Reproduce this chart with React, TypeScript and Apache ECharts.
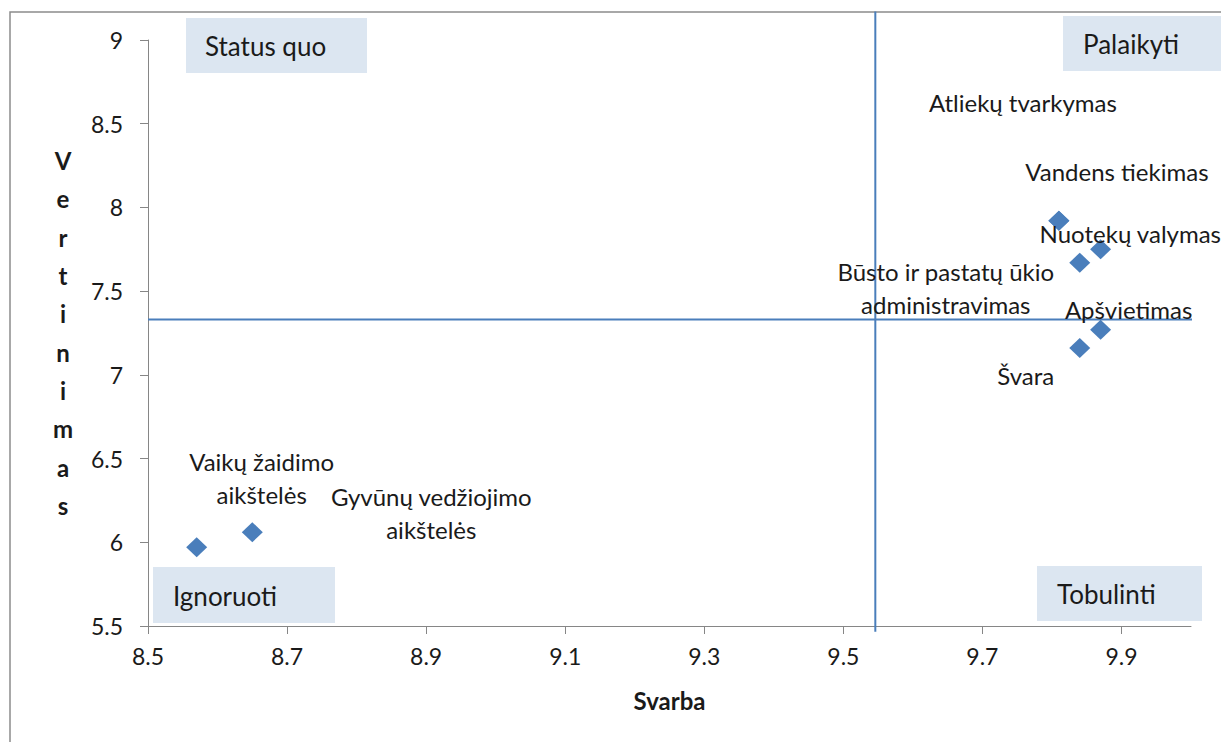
import React, { useEffect, useRef } from "react";
import * as echarts from "echarts";

// ---- data ----
const categories = [
  "Vaikų žaidimo\naikštelės",
  "Gyvūnų vedžiojimo\naikštelės",
  "Atliekų tvarkymas",
  "Vandens tiekimas",
  "Nuotekų valymas",
  "Būsto ir pastatų ūkio\nadministravimas",
  "Apšvietimas",
  "Švara",
];
const svarba = [8.57, 8.65, 9.81, 9.81, 9.87, 9.84, 9.87, 9.84];
const vertinimas = [5.97, 6.06, 7.92, 7.92, 7.75, 7.67, 7.27, 7.16];

const xTicks = [8.5, 8.7, 8.9, 9.1, 9.3, 9.5, 9.7, 9.9];
const xRange = [8.5, 10.0];
const yRange = [5.5, 9];
const yInterval = 0.5;

// quadrant dividers
const quadrantX = 9.546;
const quadrantY = 7.33;
const hLineExtent = [8.5, 10.06];
const vLineExtent = [5.465, 9.17];

const quadrantNames = ["Status quo", "Palaikyti", "Ignoruoti", "Tobulinti"];

// ---- layout / styles ----
const labelOffsets: [number, number][] = [
  [65, -69],
  [179, -19],
  [-36, -118],
  [58, -49],
  [-61, -16],
  [-134, 25],
  [28, -20],
  [-54, 27],
];
const labelAligns = ["center", "center", "center", "center", "left", "center", "center", "center"];

const boxes = [
  { x: 186, y: 18, w: 181, h: 55, tx: 205, ty: 46 },
  { x: 1063, y: 16, w: 170, h: 55, tx: 1083, ty: 44 },
  { x: 153, y: 567, w: 182, h: 56, tx: 173, ty: 596 },
  { x: 1037, y: 566, w: 165, h: 55, tx: 1057, ty: 594 },
];

const BLUE = "#4A7EBB";
const AXIS = "#868686";
const TEXT = "#1a1a1a";
const FONT = "Lato";

export default function App() {
  const ref = useRef<HTMLDivElement>(null);
  useEffect(() => {
    if (!ref.current) return;
    const chart = echarts.init(ref.current, undefined, { renderer: "svg" });
    const graphic: any[] = [
      {
        type: "rect",
        z: 0,
        silent: true,
        shape: { x: 10, y: 12, width: 1400, height: 900 },
        style: { fill: "none", stroke: "#8c8c8c", lineWidth: 1.5 },
      },
    ];
    boxes.forEach((b, i) => {
      graphic.push({
        type: "rect",
        z: 10,
        silent: true,
        shape: { x: b.x, y: b.y, width: b.w, height: b.h },
        style: { fill: "#dce6f1" },
      });
      graphic.push({
        type: "text",
        z: 11,
        silent: true,
        style: {
          text: quadrantNames[i],
          x: b.tx,
          y: b.ty,
          fontFamily: FONT,
          fontSize: 26,
          fill: TEXT,
          align: "left",
          verticalAlign: "middle",
        },
      });
    });

    const option: any = {
      animation: false,
      textStyle: { fontFamily: FONT },
      grid: { left: 148, right: 30, top: 40, bottom: 116 },
      xAxis: {
        type: "value",
        min: xRange[0],
        max: xRange[1],
        name: "Svarba",
        nameLocation: "middle",
        nameGap: 62,
        nameTextStyle: { fontSize: 24, fontWeight: "bold", color: TEXT, fontFamily: FONT },
        axisLine: { show: true, onZero: false, lineStyle: { color: AXIS, width: 1 } },
        axisTick: { show: true, length: 8, customValues: xTicks, lineStyle: { color: AXIS } },
        axisLabel: {
          customValues: xTicks,
          margin: 18,
          fontSize: 23,
          color: TEXT,
          fontFamily: FONT,
          formatter: (v: number) => v.toFixed(1),
        },
        splitLine: { show: false },
      },
      yAxis: {
        type: "value",
        min: yRange[0],
        max: yRange[1],
        interval: yInterval,
        name: "Vertinimas".split("").join("\n"),
        nameLocation: "middle",
        nameRotate: 0,
        nameGap: 85,
        nameTextStyle: {
          fontSize: 24,
          fontWeight: "bold",
          color: TEXT,
          fontFamily: FONT,
          align: "center",
          verticalAlign: "middle",
          lineHeight: 38.3,
          padding: [9, 0, 0, 0],
        },
        axisLine: { show: true, onZero: false, lineStyle: { color: AXIS, width: 1 } },
        axisTick: { show: true, length: 8, lineStyle: { color: AXIS } },
        axisLabel: { margin: 25, fontSize: 23, color: TEXT, fontFamily: FONT },
        splitLine: { show: false },
      },
      graphic,
      series: [
        {
          type: "line",
          clip: false,
          silent: true,
          symbol: "none",
          z: 1,
          lineStyle: { color: BLUE, width: 2 },
          data: [
            [hLineExtent[0], quadrantY],
            [hLineExtent[1], quadrantY],
          ],
        },
        {
          type: "line",
          clip: false,
          silent: true,
          symbol: "none",
          z: 1,
          lineStyle: { color: BLUE, width: 2 },
          data: [
            [quadrantX, vLineExtent[0]],
            [quadrantX, vLineExtent[1]],
          ],
        },
        {
          type: "scatter",
          z: 3,
          clip: false,
          symbol: "diamond",
          symbolSize: [21, 20],
          itemStyle: { color: BLUE, opacity: 1 },
          label: {
            show: true,
            position: "inside",
            formatter: "{b}",
            fontFamily: FONT,
            fontSize: 24,
            lineHeight: 33,
            color: TEXT,
            opacity: 1,
            textBorderWidth: 0,
          },
          data: svarba.map((x, i) => ({
            name: categories[i],
            value: [x, vertinimas[i]],
            label: { offset: labelOffsets[i], align: labelAligns[i] },
          })),
        },
      ],
    };
    chart.setOption(option);
    return () => chart.dispose();
  }, []);
  return (
    <div
      ref={ref}
      style={{ position: "absolute", left: 0, top: 0, width: 1221, height: 742, background: "#fff" }}
    />
  );
}
